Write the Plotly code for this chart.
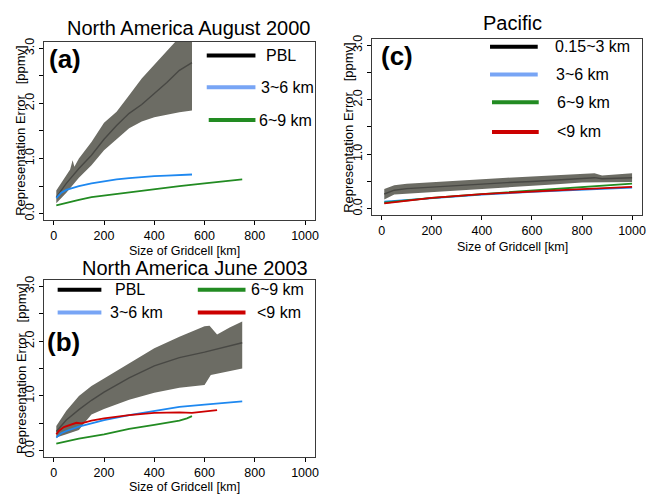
import plotly.graph_objects as go

W, H = 661, 494
FONT = "Liberation Sans, Arial, sans-serif"

# ---------------- data ----------------
# Panel (a) North America August 2000
a_band_upper_km = [10, 30, 50, 65, 75, 82, 100, 150, 200, 250, 300, 350, 400, 450, 500, 550]
a_band_upper = [0.42, 0.55, 0.68, 0.80, 0.97, 0.85, 1.00, 1.30, 1.65, 1.85, 2.15, 2.45, 2.70, 2.95, 3.20, 3.50]
a_band_lower_km = [10, 50, 100, 150, 200, 250, 300, 350, 400, 450, 500, 550]
a_band_lower = [0.19, 0.38, 0.65, 0.88, 1.15, 1.35, 1.55, 1.67, 1.75, 1.80, 1.84, 1.87]
a_pbl_km = [10, 50, 100, 150, 200, 250, 300, 350, 400, 450, 500, 550]
a_pbl = [0.30, 0.55, 0.82, 1.06, 1.35, 1.60, 1.82, 1.98, 2.18, 2.38, 2.60, 2.74]
a_36_km = [10, 20, 30, 50, 75, 100, 150, 200, 250, 300, 350, 400, 450, 500, 550]
a_36 = [0.28, 0.34, 0.38, 0.43, 0.47, 0.50, 0.55, 0.59, 0.62, 0.645, 0.665, 0.68, 0.69, 0.70, 0.71]
a_69_km = [10, 50, 100, 150, 200, 250, 300, 400, 500, 600, 700, 750]
a_69 = [0.15, 0.20, 0.25, 0.30, 0.33, 0.36, 0.39, 0.45, 0.50, 0.55, 0.59, 0.62]

# Panel (b) North America June 2003
b_band_upper_km = [10, 50, 100, 150, 200, 300, 400, 500, 600, 620, 650, 700, 750]
b_band_upper = [0.45, 0.73, 1.00, 1.18, 1.32, 1.60, 1.87, 2.08, 2.27, 2.28, 2.12, 2.25, 2.36]
b_band_lower_km = [10, 50, 100, 130, 150, 200, 300, 400, 500, 600, 625, 700, 750]
b_band_lower = [0.24, 0.30, 0.38, 0.55, 0.66, 0.76, 0.93, 1.06, 1.15, 1.20, 1.38, 1.45, 1.50]
b_pbl_km = [10, 50, 100, 150, 200, 300, 400, 500, 600, 700, 750]
b_pbl = [0.35, 0.56, 0.75, 0.92, 1.07, 1.33, 1.55, 1.70, 1.80, 1.92, 1.97]
b_36_km = [10, 30, 50, 100, 150, 200, 300, 400, 500, 600, 700, 750]
b_36 = [0.24, 0.32, 0.36, 0.44, 0.50, 0.56, 0.65, 0.73, 0.80, 0.84, 0.88, 0.90]
b_69_km = [10, 100, 200, 300, 400, 500, 530, 550]
b_69 = [0.13, 0.22, 0.30, 0.40, 0.47, 0.55, 0.59, 0.63]
b_lt9_km = [10, 20, 40, 70, 90, 110, 150, 200, 300, 400, 500, 550, 600, 650]
b_lt9 = [0.30, 0.36, 0.43, 0.48, 0.51, 0.50, 0.55, 0.59, 0.65, 0.69, 0.70, 0.69, 0.72, 0.74]

# Panel (c) Pacific
c_km = [10, 50, 100, 200, 300, 400, 500, 600, 700, 800, 850, 880, 1000]
c_band_upper = [0.36, 0.43, 0.46, 0.49, 0.52, 0.54, 0.57, 0.59, 0.61, 0.64, 0.65, 0.61, 0.65]
c_band_lower = [0.17, 0.26, 0.28, 0.31, 0.34, 0.36, 0.39, 0.42, 0.45, 0.48, 0.49, 0.49, 0.49]
c_low = [0.27, 0.34, 0.37, 0.40, 0.43, 0.45, 0.48, 0.50, 0.53, 0.56, 0.57, 0.55, 0.57]
c_line_km = [10, 100, 200, 400, 600, 800, 1000]
c_36 = [0.13, 0.16, 0.20, 0.26, 0.31, 0.35, 0.39]
c_69 = [0.11, 0.15, 0.20, 0.27, 0.33, 0.40, 0.46]
c_lt9 = [0.10, 0.15, 0.20, 0.27, 0.32, 0.36, 0.40]

x_ticks = [0, 200, 400, 600, 800, 1000]
y_ticks = [0, 0.5, 1.0, 1.5, 2.0, 2.5, 3.0]
y_ticktext = ["0.0", "", "1.0", "", "2.0", "", "3.0"]

BAND = "rgb(108,108,100)"
MEAN = "rgb(72,72,68)"
BLUE = "rgb(30,136,240)"
BLUE_LEG = "rgb(120,165,245)"
GREEN = "rgb(34,139,34)"
RED = "rgb(204,0,0)"

# ---------------- figure ----------------
fig = go.Figure()


def px_x(p):
    return p / W


def px_y(p):
    return 1 - p / H


def add_band(xa, ya, ux, uy, lx, ly):
    fig.add_trace(go.Scatter(x=list(ux) + list(lx)[::-1], y=list(uy) + list(ly)[::-1],
                             fill="toself", fillcolor=BAND, mode="lines",
                             line=dict(width=0, color=BAND), xaxis=xa, yaxis=ya,
                             hoverinfo="skip", showlegend=False))


def add_line(xa, ya, x, y, color, width=1.8):
    fig.add_trace(go.Scatter(x=x, y=y, mode="lines", line=dict(color=color, width=width),
                             xaxis=xa, yaxis=ya, showlegend=False))


# (a)
add_band("x", "y", a_band_upper_km, a_band_upper, a_band_lower_km, a_band_lower)
add_line("x", "y", a_pbl_km, a_pbl, MEAN, 1.4)
add_line("x", "y", a_69_km, a_69, GREEN)
add_line("x", "y", a_36_km, a_36, BLUE)
# (b)
add_band("x2", "y2", b_band_upper_km, b_band_upper, b_band_lower_km, b_band_lower)
add_line("x2", "y2", b_pbl_km, b_pbl, MEAN, 1.4)
add_line("x2", "y2", b_69_km, b_69, GREEN)
add_line("x2", "y2", b_36_km, b_36, BLUE)
add_line("x2", "y2", b_lt9_km, b_lt9, RED)
# (c)
add_band("x3", "y3", c_km, c_band_upper, c_km, c_band_lower)
add_line("x3", "y3", c_km, c_low, MEAN, 1.4)
add_line("x3", "y3", c_line_km, c_36, BLUE)
add_line("x3", "y3", c_line_km, c_69, GREEN)
add_line("x3", "y3", c_line_km, c_lt9, RED)

axis_common = dict(showgrid=False, zeroline=False, showline=True, mirror=True,
                   linecolor="#3a3a3a", linewidth=1, ticks="outside", ticklen=4,
                   tickcolor="black", tickfont=dict(family=FONT, size=12.5, color="black"))


def xax(p0, p1, anchor):
    return dict(axis_common, domain=[px_x(p0), px_x(p1)], range=[-40, 1040],
                tickvals=x_ticks, anchor=anchor)


def yax(t, b, anchor):
    return dict(axis_common, domain=[px_y(b), px_y(t)], range=[-0.12, 3.12],
                tickvals=y_ticks, ticktext=y_ticktext, tickangle=-90, anchor=anchor)


fig.update_layout(
    width=W, height=H, margin=dict(l=0, r=0, t=0, b=0),
    paper_bgcolor="white", plot_bgcolor="white", showlegend=False,
    xaxis=xax(44, 317, "y"), yaxis=yax(38, 218, "x"),
    xaxis2=xax(44, 317, "y2"), yaxis2=yax(278, 457, "x2"),
    xaxis3=xax(374, 646, "y3"), yaxis3=yax(35, 213, "x3"),
)

annots = []


def text(s, x, y, size, bold=False, xanchor="center", angle=0):
    annots.append(dict(text=("<b>%s</b>" % s) if bold else s, x=px_x(x), y=px_y(y),
                       xref="paper", yref="paper", showarrow=False, xanchor=xanchor,
                       yanchor="middle", textangle=angle,
                       font=dict(family=FONT, size=size, color="black")))


# titles
text("North America August 2000", 190, 24, 20)
text("North America June 2003", 196, 266, 20)
text("Pacific", 516, 19, 20)
# panel labels
text("(a)", 65, 55, 26, bold=True)
text("(b)", 64, 341, 26, bold=True)
text("(c)", 399, 52, 26, bold=True)
# axis titles
ytitle = "Representation Error\u00a0\u00a0\u00a0[ppmv]"
text(ytitle, 21, 127, 13, angle=-90)
text(ytitle, 21, 367, 13, angle=-90)
text(ytitle, 351, 124, 13, angle=-90)
xtitle = "Size of Gridcell [km]"
text(xtitle, 186, 249, 12.5)
text(xtitle, 186, 487, 12.5)
text(xtitle, 516, 245, 12.5)

shapes = []


def leg(x0, x1, y, color, label, tx):
    shapes.append(dict(type="line", xref="paper", yref="paper", x0=px_x(x0), x1=px_x(x1),
                       y0=px_y(y), y1=px_y(y), line=dict(color=color, width=4)))
    text(label, tx, y, 16, xanchor="left")


# legend (a)
leg(208, 257, 52, "black", "PBL", 266)
leg(208, 257, 84, BLUE_LEG, "3~6 km", 261)
leg(210, 257, 117, GREEN, "6~9 km", 259)
# legend (b)
leg(58, 102, 288, "black", "PBL", 114)
leg(58, 102, 311, BLUE_LEG, "3~6 km", 109)
leg(199, 247, 288, GREEN, "6~9 km", 251)
leg(199, 247, 311, RED, "<9 km", 257)
# legend (c)
leg(493, 541, 43, "black", "0.15~3 km", 556)
leg(493, 541, 71, BLUE_LEG, "3~6 km", 557)
leg(495, 542, 99, GREEN, "6~9 km", 558)
leg(495, 542, 129, RED, "<9 km", 558)

fig.update_layout(annotations=annots, shapes=shapes)
fig.write_html("out.html", config={"displayModeBar": False},
               post_script="document.body.style.margin='0';document.body.style.overflow='hidden';")
